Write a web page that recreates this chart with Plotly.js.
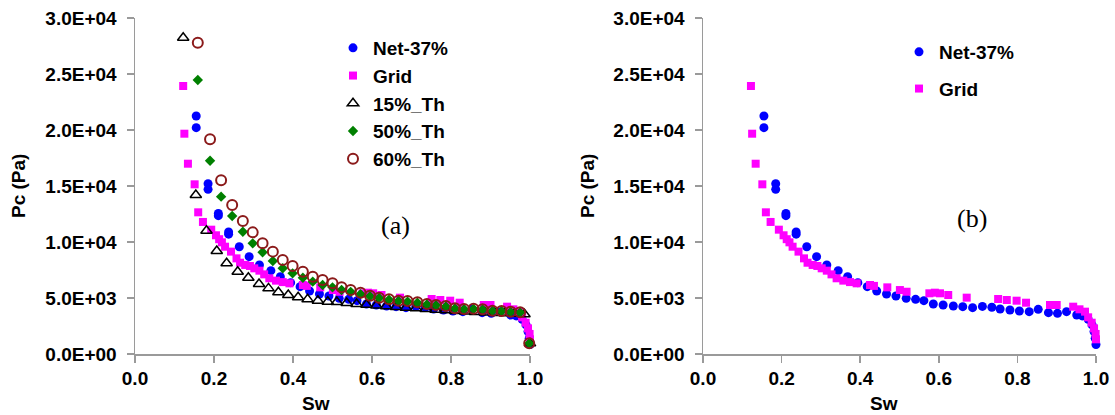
<!DOCTYPE html>
<html>
<head>
<meta charset="utf-8">
<script src="https://cdn.plot.ly/plotly-3.0.1.min.js"></script>
<style>html,body{margin:0;padding:0;background:#fff;}#chart{width:1115px;height:415px;}</style>
</head>
<body>
<div id="chart"></div>
<script>
// ---- data ----
const netX = [0.155,0.155,0.185,0.185,0.211,0.211,0.237,0.237,0.264,0.289,0.315,0.344,0.368,0.394,0.418,0.442,0.467,0.491,0.517,0.541,0.562,0.586,0.611,0.637,0.661,0.686,0.711,0.735,0.756,0.781,0.805,0.830,0.853,0.879,0.902,0.925,0.951,0.965,0.980,0.990,0.995,0.998,1.0];
const netY = [21250,20210,15210,14700,12550,12350,10900,10700,9580,8690,7950,7440,6900,6370,6010,5625,5360,5180,4970,4880,4760,4460,4375,4290,4225,4135,4250,4170,4020,3930,3840,3780,3990,3690,3630,3780,3480,3400,3100,2600,2000,1400,850];

const gridX = [0.122,0.125,0.134,0.151,0.160,0.172,0.193,0.205,0.213,0.220,0.228,0.243,0.257,0.266,0.279,0.291,0.302,0.315,0.327,0.340,0.357,0.374,0.391,0.425,0.435,0.469,0.501,0.518,0.576,0.590,0.603,0.624,0.671,0.751,0.773,0.798,0.822,0.883,0.900,0.942,0.958,0.972,0.980,0.989,0.995,0.999,1.0];
const gridY = [23930,19670,16990,15150,12650,11790,11100,10600,10250,9970,9580,9140,8540,8150,7950,7860,7650,7440,7110,6760,6550,6420,6310,6160,6080,5950,5710,5560,5420,5475,5420,5270,5030,4910,4820,4760,4580,4375,4375,4225,3990,3780,3275,2795,2290,1790,1310];

const th15X = [0.122,0.154,0.181,0.207,0.232,0.260,0.287,0.314,0.338,0.363,0.388,0.413,0.437,0.463,0.488,0.511,0.536,0.561,0.586,0.611,0.636,0.661,0.686,0.711,0.736,0.761,0.786,0.811,0.836,0.861,0.886,0.911,0.936,0.961,0.986,1.0];
const th15Y = [28240,14200,11010,9200,8100,7350,6810,6250,5860,5510,5270,5060,4880,4760,4670,4640,4560,4470,4390,4330,4260,4200,4130,4080,4020,3960,3900,3850,3800,3760,3710,3670,3630,3590,3550,950];

const th50X = [0.159,0.190,0.218,0.246,0.273,0.298,0.323,0.349,0.374,0.399,0.425,0.450,0.475,0.500,0.523,0.546,0.571,0.595,0.618,0.643,0.667,0.690,0.715,0.739,0.762,0.787,0.810,0.833,0.857,0.880,0.905,0.928,0.951,0.975,0.998];
const th50Y = [24460,17260,14050,12320,10920,9880,9080,8300,7650,7200,6810,6460,6160,5950,5710,5550,5350,5150,5000,4850,4730,4680,4580,4430,4350,4250,4060,4000,4020,3970,3850,3820,3760,3700,950];

const th60X = [0.159,0.190,0.218,0.246,0.273,0.298,0.323,0.349,0.374,0.399,0.425,0.450,0.475,0.500,0.523,0.546,0.571,0.595,0.618,0.643,0.667,0.690,0.715,0.739,0.762,0.787,0.810,0.833,0.857,0.880,0.905,0.928,0.951,0.975,0.998];
const th60Y = [27800,19170,15510,13300,11880,10860,9880,9140,8390,7860,7350,6900,6610,6310,5950,5710,5475,5210,5030,4880,4760,4730,4615,4460,4375,4285,4080,4020,4045,3990,3870,3840,3780,3720,955];

const xTickVals = [0,0.2,0.4,0.6,0.8,1.0];
const xTickText = ['0.0','0.2','0.4','0.6','0.8','1.0'];
const yTickVals = [0,5000,10000,15000,20000,25000,30000];
const yTickText = ['0.0E+00','5.0E+03','1.0E+04','1.5E+04','2.0E+04','2.5E+04','3.0E+04'];

const names = ['Net-37%','Grid','15%_Th','50%_Th','60%_Th'];

// ---- styles ----
const SANS = 'Liberation Sans, Arial, sans-serif';
const SERIF = 'Liberation Serif, Times New Roman, serif';
const mNet = {symbol:'circle', size:9, color:'#0000FF'};
const mGrid = {symbol:'square', size:8, color:'#FF00FF'};
const m15 = {symbol:'triangle-up-open', size:10, color:'#000000', line:{width:1.5}};
const m50 = {symbol:'diamond', size:8, color:'#008000'};
const m60 = {symbol:'circle-open', size:10, color:'#8B1A1A', line:{width:2}};

function tr(x, y, name, marker, xa, ya, legend, group) {
  const t = {x:x, y:y, name:name, type:'scatter', mode:'markers', marker:marker,
    xaxis:xa, yaxis:ya, cliponaxis:false, legend:legend};
  if (group) t.legendgroup = group;
  return t;
}

const data = [
  tr(netX, netY, names[0], mNet, 'x', 'y', 'legend'),
  tr(gridX, gridY, names[1], mGrid, 'x', 'y', 'legend'),
  tr(th15X, th15Y, names[2], m15, 'x', 'y', 'legend'),
  tr(th50X, th50Y, names[3], m50, 'x', 'y', 'legend'),
  tr(th60X, th60Y, names[4], m60, 'x', 'y', 'legend'),
  tr(netX, netY, names[0], mNet, 'x2', 'y2', 'legend2', 'g1'),
  tr(gridX, gridY, names[1], mGrid, 'x2', 'y2', 'legend2', 'g2')
];

const W = 1115, H = 415;
const tickFont = {family:SANS, size:19, color:'#000', weight:'bold'};
function xax(domain, anchor) {
  return {domain:domain, anchor:anchor, range:[0,1], tickvals:xTickVals, ticktext:xTickText,
    showline:true, linecolor:'#9a9a9a', linewidth:1.5, ticks:'outside', ticklen:7, tickcolor:'#9a9a9a', tickwidth:1.5,
    showgrid:false, zeroline:false, tickfont:tickFont, fixedrange:true};
}
function yax(domain, anchor) {
  return {domain:domain, anchor:anchor, range:[0,30000], tickvals:yTickVals, ticktext:yTickText,
    showline:true, linecolor:'#9a9a9a', linewidth:1.5, ticks:'outside', ticklen:7, tickcolor:'#9a9a9a', tickwidth:1.5,
    showgrid:false, zeroline:false, tickfont:tickFont, ticklabelstandoff:6, fixedrange:true};
}
function ann(text, px, py, font, angle) {
  const a = {text:text, x:px/W, y:1-py/H, xref:'paper', yref:'paper', showarrow:false,
    xanchor:'center', yanchor:'middle', font:font};
  if (angle !== undefined) a.textangle = angle;
  return a;
}
const yDom = [1-354/H, 1-18/H];
const boldFont = {family:SANS, size:19, color:'#000', weight:'bold'};
const serifFont = {family:SERIF, size:26, color:'#000'};
const layout = {
  width:W, height:H, margin:{l:0, r:0, t:0, b:0}, paper_bgcolor:'#fff', plot_bgcolor:'#fff',
  showlegend:true,
  xaxis: xax([135/W, 530/W], 'y'),
  yaxis: yax(yDom, 'x'),
  xaxis2: xax([703/W, 1096/W], 'y2'),
  yaxis2: yax(yDom, 'x2'),
  legend: {x:333/W, y:1-29/H, xanchor:'left', yanchor:'top', bgcolor:'rgba(0,0,0,0)',
    font:{family:SANS, size:19, color:'#000', weight:'bold'}},
  legend2: {x:899/W, y:1-33/H, xanchor:'left', yanchor:'top', bgcolor:'rgba(0,0,0,0)',
    traceorder:'grouped', tracegroupgap:9,
    font:{family:SANS, size:19, color:'#000', weight:'bold'}},
  annotations: [
    ann('(a)', 395, 225, serifFont),
    ann('(b)', 972, 218, serifFont),
    ann('Pc (Pa)', 18, 186, boldFont, -90),
    ann('Pc (Pa)', 587, 186, boldFont, -90),
    ann('Sw', 316, 403, boldFont),
    ann('Sw', 884, 403, boldFont)
  ]
};
Plotly.newPlot('chart', data, layout, {displayModeBar:false, staticPlot:true});
</script>
</body>
</html>
